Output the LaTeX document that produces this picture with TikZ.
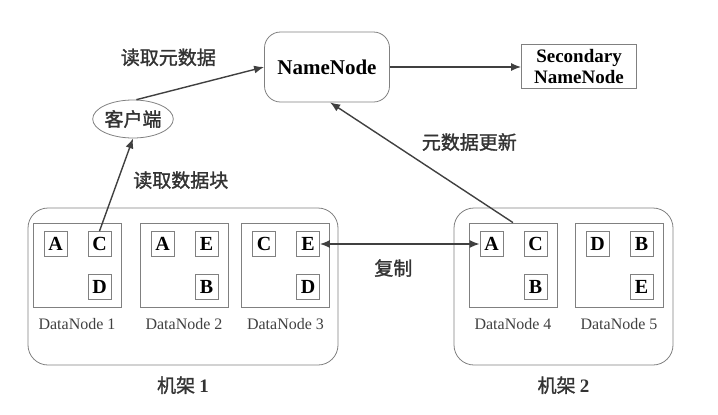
\documentclass[tikz,border=0pt]{standalone}
\usepackage{fontspec}
\setmainfont{Liberation Serif}
\newfontfamily\cjk[FakeBold=1.5]{Noto Sans CJK SC}
\usetikzlibrary{positioning,shapes.geometric,arrows.meta}
\tikzset{
  namebox/.style={draw=gray,rounded corners=8pt,minimum width=62.5pt,minimum height=35pt,font=\fontsize{10.5}{12}\selectfont\bfseries},
  secbox/.style={draw=gray,minimum width=57.5pt,minimum height=22pt,inner sep=1pt,align=center,font=\fontsize{9.5}{10.5}\selectfont\bfseries},
  cn/.style={text=black!80,font=\cjk\fontsize{9.5}{11}\selectfont},
  clientnode/.style={draw=gray,ellipse,minimum width=40pt,minimum height=19pt,inner sep=0pt,cn},
  rack/.style={draw=gray,rounded corners=10pt,minimum height=78.5pt},
  dnbox/.style={draw=gray,minimum width=44pt,minimum height=42pt},
  blk/.style={draw=gray,minimum width=11.5pt,minimum height=12.5pt,inner sep=0pt,font=\fontsize{10}{10}\selectfont\bfseries},
  dnlabel/.style={text=black!75,font=\fontsize{8}{9}\selectfont},
  arr/.style={->,draw=black!75,line width=0.7pt}
}
\begin{document}
\begin{tikzpicture}[x=0.5pt,y=-0.5pt,>={Latex[length=5pt,width=4pt]}]
\useasboundingbox (0,0) rectangle (718,414);
\node(nn) [namebox] at (327,67) {NameNode};
\node(sec) [secbox] at (579,66) {Secondary\\NameNode};
\node(client) [clientnode] at (133,119) {客户端};
\node(rack1) [rack,minimum width=155pt] at (183,286.5) {};
\node(rack2) [rack,minimum width=109.5pt] at (563.5,286.5) {};
\node(rk1) [cn,below=2pt of rack1] {机架 {\rmfamily\bfseries 1}};
\node(rk2) [cn,below=2pt of rack2] {机架 {\rmfamily\bfseries 2}};
\foreach \i/\x/\a/\b/\c in {1/77/A/C/D,2/184/A/E/B,3/285.5/C/E/D,4/513/A/C/B,5/619/D/B/E}{
  \node(dn\i) [dnbox] at (\x,265) {};
  \node(dn\i-tl) [blk] at ([shift={(-21.5,-21)}]dn\i.center) {\a};
  \node(dn\i-tr) [blk] at ([shift={(22.5,-21)}]dn\i.center) {\b};
  \node(dn\i-br) [blk] at ([shift={(22.5,22)}]dn\i.center) {\c};
  \node(lbl\i) [dnlabel,below=2pt of dn\i] {DataNode \i};
}
\draw[arr] (client.80) to node[cn,pos=0.25,above=9pt] {读取元数据} (nn.west);
\draw[arr] (nn.east) to (sec.west |- nn.east);
\draw[arr] (dn1-tr.north) to node[cn,pos=0.55,right=4pt] {读取数据块} (client.south);
\draw[arr] (dn4.north) to node[cn,pos=0.67,right=12pt] {元数据更新} (nn.-85);
\draw[arr,<->] (dn3-tr.east) to node[cn,pos=0.46,below=4pt] {复制} (dn4-tl.west);
\end{tikzpicture}
\end{document}
